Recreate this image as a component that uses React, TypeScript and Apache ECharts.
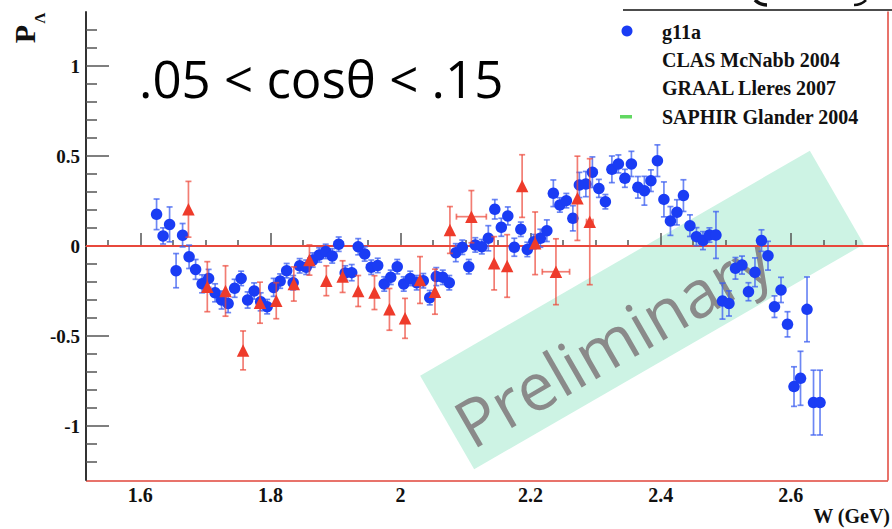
import React, { useEffect, useRef } from "react";
import * as echarts from "echarts";

const X_MIN = 1.5165;
const X_MAX = 2.7495;
const Y_MIN = -1.3;
const Y_MAX = 1.3;

const xMajorTicks = [1.6, 1.8, 2, 2.2, 2.4, 2.6];
const xMinorTicks = [1.55, 1.65, 1.7, 1.75, 1.85, 1.9, 1.95, 2.05, 2.1, 2.15, 2.25, 2.3, 2.35, 2.45, 2.5, 2.55, 2.65, 2.7];
const yMajorTicks = [-1, -0.5, 0, 0.5, 1];
const yMinorTicks = [-1.2, -1.1, -0.9, -0.8, -0.7, -0.6, -0.4, -0.3, -0.2, -0.1, 0.1, 0.2, 0.3, 0.4, 0.6, 0.7, 0.8, 0.9, 1.1, 1.2];

const titleText = ".05 < cos\u03b8 < .15";
const legendLabels = ["g11a", "CLAS McNabb 2004", "GRAAL Lleres 2007", "SAPHIR Glander 2004"];

// g11a (blue circles)
const g11aW = [
  1.625, 1.635, 1.645, 1.655, 1.665, 1.675, 1.685, 1.695, 1.705, 1.715,
  1.725, 1.735, 1.745, 1.755, 1.765, 1.775, 1.785, 1.795, 1.805, 1.815,
  1.825, 1.835, 1.845, 1.855, 1.865, 1.875, 1.885, 1.895, 1.905, 1.915,
  1.925, 1.935, 1.945, 1.955, 1.965, 1.975, 1.985, 1.995, 2.005, 2.015,
  2.025, 2.035, 2.045, 2.055, 2.065, 2.075, 2.085, 2.095, 2.105, 2.115,
  2.125, 2.135, 2.145, 2.155, 2.165, 2.175, 2.185, 2.195, 2.205, 2.215,
  2.225, 2.235, 2.245, 2.255, 2.265, 2.275, 2.285, 2.295, 2.305, 2.315,
  2.325, 2.335, 2.345, 2.355, 2.365, 2.375, 2.385, 2.395, 2.405, 2.415,
  2.425, 2.435, 2.445, 2.455, 2.465, 2.475, 2.485, 2.495, 2.505, 2.515,
  2.525, 2.535, 2.545, 2.555, 2.565, 2.575, 2.585, 2.595, 2.605, 2.615,
  2.625, 2.635, 2.645,
];
const g11aP = [
  0.176, 0.056, 0.12, -0.137, 0.06, -0.06, -0.13, -0.21, -0.18, -0.26,
  -0.3, -0.32, -0.235, -0.18, -0.3, -0.25, -0.31, -0.337, -0.23, -0.195,
  -0.137, -0.204, -0.11, -0.118, -0.078, -0.05, -0.03, -0.055, 0.01, -0.15,
  -0.148, -0.004, -0.044, -0.118, -0.108, -0.211, -0.174, -0.115, -0.211, -0.18,
  -0.204, -0.193, -0.287, -0.17, -0.174, -0.204, -0.037, -0.007, -0.115, 0.006,
  -0.004, 0.043, 0.204, 0.104, 0.167, -0.007, 0.093, -0.019, 0.024, 0.043,
  0.085, 0.293, 0.228, 0.252, 0.154, 0.339, 0.344, 0.41, 0.32, 0.246,
  0.426, 0.456, 0.376, 0.456, 0.326, 0.307, 0.363, 0.474, 0.259, 0.139,
  0.187, 0.28, 0.113, 0.052, 0.03, 0.061, 0.061, -0.306, -0.319, -0.124,
  -0.106, -0.254, -0.146, 0.03, -0.054, -0.337, -0.244, -0.435, -0.781, -0.735,
  -0.352, -0.87, -0.87,
];
const g11aErr = [
  0.085, 0.045, 0.097, 0.095, 0.065, 0.065, 0.055, 0.05, 0.05, 0.05,
  0.05, 0.05, 0.05, 0.04, 0.045, 0.045, 0.05, 0.04, 0.05, 0.04,
  0.04, 0.04, 0.04, 0.04, 0.04, 0.04, 0.04, 0.04, 0.04, 0.04,
  0.045, 0.045, 0.04, 0.04, 0.04, 0.04, 0.04, 0.04, 0.04, 0.04,
  0.04, 0.04, 0.04, 0.05, 0.04, 0.04, 0.05, 0.04, 0.04, 0.04,
  0.04, 0.07, 0.054, 0.05, 0.05, 0.05, 0.04, 0.04, 0.04, 0.05,
  0.06, 0.074, 0.04, 0.04, 0.07, 0.07, 0.07, 0.085, 0.05, 0.04,
  0.074, 0.05, 0.05, 0.07, 0.06, 0.08, 0.06, 0.088, 0.097, 0.08,
  0.07, 0.088, 0.06, 0.05, 0.05, 0.04, 0.13, 0.1, 0.07, 0.06,
  0.05, 0.05, 0.08, 0.06, 0.08, 0.06, 0.07, 0.07, 0.11, 0.15,
  0.18, 0.18, 0.18,
];

// CLAS McNabb 2004 (red triangles)
const clasW = [
  1.674, 1.703, 1.731, 1.758, 1.784, 1.809, 1.836, 1.86, 1.886, 1.911,
  1.935, 1.96, 1.983, 2.007, 2.03, 2.053, 2.076, 2.109, 2.144, 2.164,
  2.187, 2.207, 2.239, 2.272, 2.291,
];
const clasP = [
  0.204, -0.226, -0.25, -0.58, -0.315, -0.304, -0.211, -0.078, -0.193, -0.17,
  -0.25, -0.259, -0.352, -0.402, -0.189, -0.254, 0.089, 0.163, -0.096, -0.111,
  0.333, 0.015, -0.143, 0.265, 0.135,
];
const clasErr = [
  0.155, 0.139, 0.14, 0.108, 0.114, 0.1, 0.095, 0.084, 0.083, 0.088,
  0.086, 0.094, 0.116, 0.111, 0.13, 0.125, 0.13, 0.145, 0.148, 0.174,
  0.174, 0.174, 0.183, 0.234, 0.35,
];
const clasXErr = [
  0, 0, 0, 0, 0, 0, 0, 0, 0, 0,
  0, 0, 0, 0, 0, 0, 0, 0.023, 0, 0,
  0, 0, 0.021, 0, 0.005,
];

const BLUE = "#1a3cf4";
const BLUE_ERR = "rgba(60,95,240,0.75)";
const RED = "#ee3b2b";
const RED_ERR = "rgba(236,70,55,0.7)";
const SERIF = "'Liberation Serif', 'Times New Roman', serif";

function errorRenderer(color: string, cap: number) {
  return (params: any, api: any) => {
    const x = api.value(0);
    const y = api.value(1);
    const ey = api.value(2);
    const ex = api.value(3);
    const top = api.coord([x, y + ey]);
    const bot = api.coord([x, y - ey]);
    const style = { stroke: color, lineWidth: 1.7 };
    const children: any[] = [
      { type: "line", shape: { x1: top[0], y1: top[1], x2: bot[0], y2: bot[1] }, style },
      { type: "line", shape: { x1: top[0] - cap, y1: top[1], x2: top[0] + cap, y2: top[1] }, style },
      { type: "line", shape: { x1: bot[0] - cap, y1: bot[1], x2: bot[0] + cap, y2: bot[1] }, style },
    ];
    if (ex > 0) {
      const l = api.coord([x - ex, y]);
      const r = api.coord([x + ex, y]);
      children.push(
        { type: "line", shape: { x1: l[0], y1: l[1], x2: r[0], y2: r[1] }, style },
        { type: "line", shape: { x1: l[0], y1: l[1] - cap, x2: l[0], y2: l[1] + cap }, style },
        { type: "line", shape: { x1: r[0], y1: r[1] - cap, x2: r[0], y2: r[1] + cap }, style }
      );
    }
    return { type: "group", children };
  };
}

export default function App() {
  const ref = useRef<HTMLDivElement>(null);

  useEffect(() => {
    if (!ref.current) return;
    const chart = echarts.init(ref.current, undefined, { renderer: "svg" });

    const blueData = g11aW.map((w, i) => [w, g11aP[i], g11aErr[i], 0]);
    const redData = clasW.map((w, i) => [w, clasP[i], clasErr[i], clasXErr[i]]);

    const labelStyle = {
      color: "#111",
      fontFamily: SERIF,
      fontWeight: "bold" as const,
    };

    const option: any = {
      animation: false,
      backgroundColor: "#fff",
      grid: { left: 86, right: 4, top: 12, bottom: 49, containLabel: false },
      xAxis: [
        {
          type: "value",
          min: X_MIN,
          max: X_MAX,
          position: "bottom",
          axisLine: { show: true, lineStyle: { color: "#333", width: 2 } },
          axisTick: { show: true, inside: true, length: 13, customValues: xMajorTicks, lineStyle: { color: "#555", width: 1.5 } },
          axisLabel: { show: true, customValues: xMajorTicks, margin: 5, fontSize: 20, ...labelStyle, formatter: (v: number) => String(v) },
          splitLine: { show: false },
        },
        {
          type: "value",
          min: X_MIN,
          max: X_MAX,
          position: "bottom",
          axisLine: { show: false },
          axisTick: { show: true, inside: true, length: 6, customValues: xMinorTicks, lineStyle: { color: "#555", width: 1.5 } },
          axisLabel: { show: false },
          splitLine: { show: false },
        },
        {
          type: "value",
          min: X_MIN,
          max: X_MAX,
          position: "top",
          axisLine: { show: true, lineStyle: { color: "#ececec", width: 1 } },
          axisTick: { show: false },
          axisLabel: { show: false },
          splitLine: { show: false },
        },
      ],
      yAxis: [
        {
          type: "value",
          min: Y_MIN,
          max: Y_MAX,
          position: "left",
          axisLine: { show: true, lineStyle: { color: "#333", width: 2 } },
          axisTick: { show: true, inside: true, length: 23, customValues: yMajorTicks, lineStyle: { color: "#555", width: 1.5 } },
          axisLabel: { show: true, customValues: yMajorTicks, margin: 6, fontSize: 19, ...labelStyle, formatter: (v: number) => String(v) },
          splitLine: { show: false },
        },
        {
          type: "value",
          min: Y_MIN,
          max: Y_MAX,
          position: "left",
          axisLine: { show: false },
          axisTick: { show: true, inside: true, length: 11, customValues: yMinorTicks, lineStyle: { color: "#555", width: 1.5 } },
          axisLabel: { show: false },
          splitLine: { show: false },
        },
        {
          type: "value",
          min: Y_MIN,
          max: Y_MAX,
          position: "right",
          axisLine: { show: true, lineStyle: { color: "#e0453a", width: 1.5 } },
          axisTick: { show: false },
          axisLabel: { show: false },
          splitLine: { show: false },
        },
      ],
      graphic: [
        {
          type: "group",
          x: 642,
          y: 310,
          rotation: Math.PI / 6,
          silent: true,
          children: [
            { type: "rect", shape: { x: -225, y: -54, width: 450, height: 108 }, style: { fill: "#cdf3e4" } },
            {
              type: "text",
              x: -41,
              y: 11,
              style: {
                text: "Preliminary",
                fill: "#8a8a8a",
                font: "66px 'Open Sans', sans-serif",
                align: "center",
                verticalAlign: "middle",
              },
            },
          ],
        },
        {
          type: "line",
          silent: true,
          shape: { x1: 86, y1: 481, x2: 888, y2: 481 },
          style: { stroke: "#e0453a", lineWidth: 1.5 },
        },
        {
          type: "text",
          x: 139,
          y: 78,
          silent: true,
          style: { text: titleText, fill: "#000", font: "51px 'Open Sans', sans-serif", align: "left", verticalAlign: "middle" },
        },
        {
          type: "text",
          x: 24,
          y: 34,
          rotation: Math.PI / 2,
          silent: true,
          style: { text: "P", fill: "#111", font: `bold 30px ${SERIF}`, align: "center", verticalAlign: "middle" },
        },
        {
          type: "text",
          x: 40,
          y: 18,
          rotation: Math.PI / 2,
          silent: true,
          style: { text: "\u039b", fill: "#111", font: `bold 15px ${SERIF}`, align: "center", verticalAlign: "middle" },
        },
        {
          type: "text",
          x: 890,
          y: 516,
          silent: true,
          style: { text: "W (GeV)", fill: "#111", font: `bold 20px ${SERIF}`, align: "right", verticalAlign: "middle" },
        },
        {
          type: "line",
          silent: true,
          shape: { x1: 623, y1: 10, x2: 892, y2: 10 },
          style: { stroke: "#111", lineWidth: 1.5 },
        },
        {
          type: "arc",
          silent: true,
          shape: { cx: 767, cy: -12, r: 17, startAngle: Math.PI / 2, endAngle: (3 * Math.PI) / 4 },
          style: { stroke: "#111", lineWidth: 3.5, fill: "none" },
        },
        {
          type: "arc",
          silent: true,
          shape: { cx: 854, cy: -12, r: 17, startAngle: Math.PI / 4, endAngle: Math.PI / 2 },
          style: { stroke: "#111", lineWidth: 2.5, fill: "none" },
        },
        { type: "circle", silent: true, shape: { cx: 627, cy: 31, r: 5.5 }, style: { fill: BLUE } },
        { type: "rect", silent: true, shape: { x: 620, y: 115, width: 12, height: 3.5 }, style: { fill: "#62d862" } },
        ...legendLabels.map((t, i) => ({
          type: "text",
          x: 662,
          y: [32, 60, 88, 117][i],
          silent: true,
          style: { text: t, fill: "#111", font: `bold 20px ${SERIF}`, align: "left", verticalAlign: "middle" },
        })),
      ],
      series: [
        {
          type: "line",
          name: "zero",
          xAxisIndex: 0,
          yAxisIndex: 0,
          data: [[X_MIN, 0], [X_MAX, 0]],
          symbol: "none",
          lineStyle: { color: "#e8483c", width: 2 },
          z: 1,
          silent: true,
        },
        {
          type: "custom",
          name: "g11a err",
          xAxisIndex: 0,
          yAxisIndex: 0,
          data: blueData,
          encode: { x: 0, y: 1 },
          renderItem: errorRenderer(BLUE_ERR, 3),
          z: 2,
          silent: true,
        },
        {
          type: "scatter",
          name: "g11a",
          xAxisIndex: 0,
          yAxisIndex: 0,
          data: blueData.map((d) => [d[0], d[1]]),
          symbol: "circle",
          symbolSize: 11.5,
          itemStyle: { color: BLUE, opacity: 1 },
          z: 3,
          silent: true,
        },
        {
          type: "custom",
          name: "CLAS err",
          xAxisIndex: 0,
          yAxisIndex: 0,
          data: redData,
          encode: { x: 0, y: 1 },
          renderItem: errorRenderer(RED_ERR, 3),
          z: 4,
          silent: true,
        },
        {
          type: "scatter",
          name: "CLAS McNabb 2004",
          xAxisIndex: 0,
          yAxisIndex: 0,
          data: redData.map((d) => [d[0], d[1]]),
          symbol: "triangle",
          symbolSize: 12.5,
          itemStyle: { color: RED, opacity: 1 },
          z: 5,
          silent: true,
        },
      ],
    };

    chart.setOption(option);
    return () => {
      chart.dispose();
    };
  }, []);

  return (
    <div
      ref={ref}
      style={{ position: "fixed", left: 0, top: 0, width: 892, height: 529, background: "#fff" }}
    />
  );
}
